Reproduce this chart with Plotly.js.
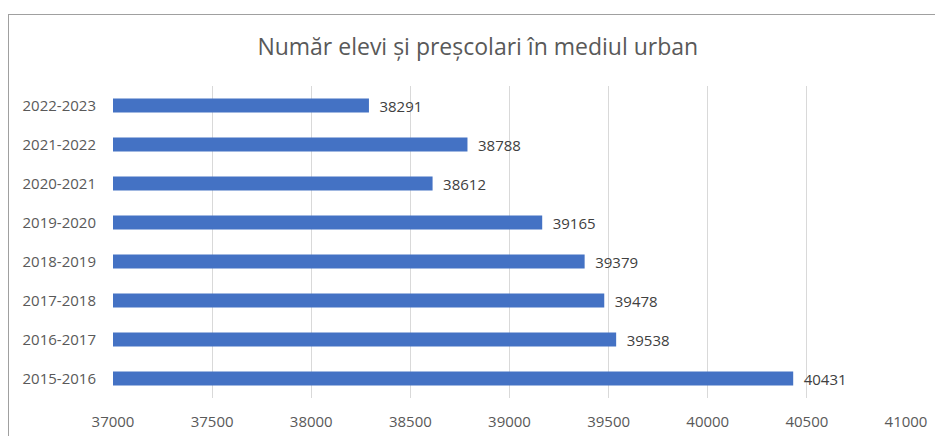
<!DOCTYPE html>
<html>
<head>
<meta charset="utf-8">
<script src="https://cdn.plot.ly/plotly-3.0.1.min.js"></script>
<style>
html,body{margin:0;padding:0;overflow:hidden;background:#fff;}
#frame{position:absolute;left:8px;top:14px;width:1000px;height:600px;border-left:1px solid #a0a0a0;border-top:1px solid #a0a0a0;}
#chart{position:absolute;left:0;top:0;width:935px;height:436px;}
</style>
</head>
<body>
<div id="frame"></div>
<div id="chart"></div>
<script>
const years = ['2015-2016','2016-2017','2017-2018','2018-2019','2019-2020','2020-2021','2021-2022','2022-2023'];
const students = [40431, 39538, 39478, 39379, 39165, 38612, 38788, 38291];
const xTicks = [37000, 37500, 38000, 38500, 39000, 39500, 40000, 40500, 41000];
const chartTitle = 'Număr elevi și preșcolari în mediul urban';

const trace = {
  type: 'bar',
  orientation: 'h',
  y: years,
  x: students,
  marker: {color: '#4472c4'},
  text: students.map(v => '\u2002' + v),
  textposition: 'outside',
  constraintext: 'none',
  textfont: {family: 'Open Sans', size: 15, color: '#404040'},
  cliponaxis: false,
  hoverinfo: 'x+y'
};

const layout = {
  width: 935, height: 436,
  paper_bgcolor: 'rgba(0,0,0,0)',
  plot_bgcolor: 'rgba(0,0,0,0)',
  margin: {l: 113, r: 29, t: 86, b: 38},
  bargap: 0.64,
  showlegend: false,
  title: {text: chartTitle, x: 0.511, xanchor: 'center', y: 0.892, yanchor: 'middle',
          font: {family: 'Open Sans', size: 23, color: '#595959'}},
  xaxis: {range: [37000, 41000], tickvals: xTicks, ticktext: xTicks.map(String),
          showgrid: true, gridcolor: '#d9d9d9', gridwidth: 1, zeroline: false,
          showline: false, ticks: '', ticklabelstandoff: 13,
          tickfont: {family: 'Open Sans', size: 15, color: '#595959'}},
  yaxis: {type: 'category', categoryorder: 'array', categoryarray: years,
          showgrid: false, zeroline: false, showline: false, ticks: '',
          ticklabelstandoff: 16,
          tickfont: {family: 'Open Sans', size: 15, color: '#595959'}}
};

Plotly.newPlot('chart', [trace], layout, {displayModeBar: false, staticPlot: true});
</script>
</body>
</html>
